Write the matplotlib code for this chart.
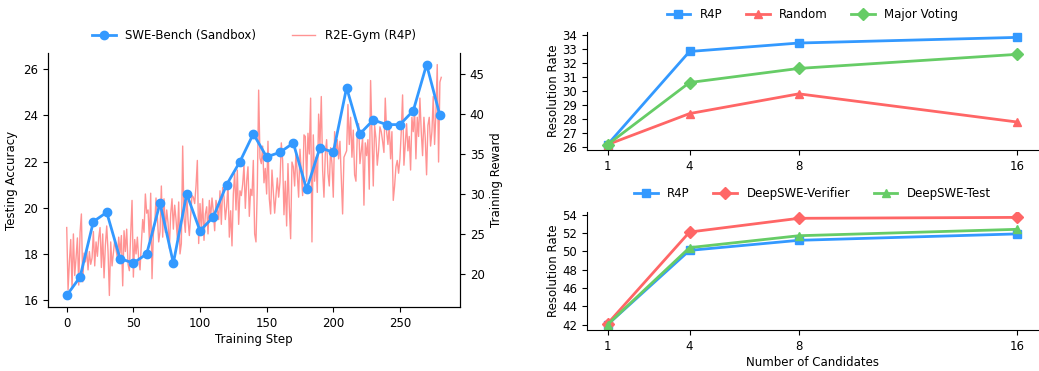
import matplotlib.pyplot as plt

# 左: 学習曲線
test_steps = list(range(0, 290, 10))
test_acc = [16.2, 17.0, 19.4, 19.8, 17.8, 17.6, 18.0, 20.2, 17.6, 20.6,
            19.0, 19.6, 21.0, 22.0, 23.2, 22.2, 22.4, 22.8, 20.8, 22.6,
            22.4, 25.2, 23.2, 23.8, 23.6, 23.6, 24.2, 26.2, 24.0]

train_reward = [
    25.8, 18.0, 21.5, 24.3, 18.2, 25.0, 19.8, 22.0, 24.5, 18.6, 25.2, 27.5, 19.0, 22.6, 21.5, 23.0, 20.5, 22.8, 21.2, 22.0,
    25.3, 21.0, 24.0, 22.2, 24.5, 25.8, 20.8, 25.0, 19.5, 23.6, 26.0, 22.8, 17.3, 24.0, 21.0, 22.6, 24.2, 23.0, 22.0, 24.6,
    22.6, 24.8, 18.5, 25.4, 22.8, 25.6, 21.2, 20.4, 25.0, 29.2, 19.6, 24.3, 22.5, 24.6, 21.8, 20.5, 23.8, 26.8, 25.2, 30.0,
    27.6, 28.0, 24.2, 30.1, 19.4, 25.0, 26.2, 29.5, 27.2, 24.0, 25.3, 31.0, 24.6, 29.4, 25.2, 28.0, 26.4, 23.2, 27.5, 29.4,
    25.6, 28.6, 26.8, 24.4, 29.0, 22.5, 23.8, 36.0, 27.0, 25.2, 30.2, 26.8, 24.8, 27.4, 29.8, 29.6, 28.8, 31.0, 34.2, 23.8,
    28.8, 25.5, 29.4, 24.2, 27.5, 28.4, 25.0, 29.2, 27.0, 29.5, 27.8, 25.4, 29.2, 28.0, 26.8, 30.4, 26.2, 30.8, 29.6, 26.8,
    28.4, 31.2, 24.6, 27.9, 23.5, 30.0, 32.6, 28.0, 33.0, 26.2, 30.4, 29.8, 31.2, 33.6, 28.2, 31.6, 33.4, 27.2, 30.6, 29.8,
    34.2, 25.0, 24.0, 30.8, 43.0, 34.5, 33.8, 36.0, 31.4, 33.2, 30.0, 36.6, 29.4, 27.5, 33.0, 30.4, 27.6, 29.8, 32.0, 29.6,
    31.5, 36.4, 34.2, 27.4, 31.6, 26.0, 33.8, 28.4, 24.4, 34.0, 33.4, 31.0, 35.2, 32.4, 29.6, 35.6, 32.8, 29.8, 37.4, 37.2,
    31.6, 37.6, 35.0, 42.0, 24.0, 37.4, 31.6, 34.6, 30.2, 40.0, 36.2, 42.2, 33.0, 29.6, 35.0, 36.8, 32.6, 31.0, 35.8, 33.8,
    29.6, 37.8, 35.0, 36.8, 34.4, 36.6, 32.0, 27.5, 34.6, 35.0, 35.4, 41.2, 36.2, 39.6, 34.6, 38.0, 32.4, 31.6, 37.4, 38.8,
    33.8, 35.4, 37.0, 28.6, 36.4, 34.8, 36.8, 30.6, 44.2, 37.8, 31.0, 38.6, 37.0, 33.6, 35.4, 38.4, 37.8, 36.6, 35.2, 42.0,
    37.8, 36.2, 38.6, 34.4, 37.8, 29.2, 31.0, 33.4, 34.2, 32.6, 34.4, 37.8, 42.4, 33.6, 36.2, 38.8, 35.4, 37.2, 33.0, 39.6,
    37.8, 40.6, 34.4, 39.6, 37.2, 42.0, 37.8, 34.8, 39.6, 37.0, 32.4, 38.6, 39.6, 36.0, 37.8, 42.2, 36.2, 40.0, 46.2, 34.0,
    44.0, 44.6,
]
train_steps = list(range(len(train_reward)))

# 右: 候補数ごとの解決率
candidates = [1, 4, 8, 16]
top_r4p = [26.2, 32.8, 33.4, 33.8]
top_random = [26.2, 28.4, 29.8, 27.8]
top_vote = [26.2, 30.6, 31.6, 32.6]
bot_r4p = [42.0, 50.1, 51.2, 51.9]
bot_verifier = [42.1, 52.1, 53.6, 53.7]
bot_test = [42.0, 50.4, 51.7, 52.4]

blue = '#3399ff'
red = '#ff6666'
green = '#66cc66'

plt.rcParams['font.size'] = 8.5

fig = plt.figure(figsize=(10.39, 3.71), dpi=100)

ax = fig.add_axes([0.0462, 0.1725, 0.3965, 0.6846])
ax2 = ax.twinx()
l2, = ax2.plot(train_steps, train_reward, color=red, alpha=0.7, linewidth=1, label='R2E-Gym (R4P)')
l1, = ax.plot(test_steps, test_acc, color=blue, marker='o', markersize=6, linewidth=2, label='SWE-Bench (Sandbox)')
ax.set_zorder(ax2.get_zorder() + 1)
ax.patch.set_visible(False)
ax.set_xlabel('Training Step', labelpad=2)
ax.set_ylabel('Testing Accuracy')
ax2.set_ylabel('Training Reward')
ax.spines['top'].set_visible(False)
ax2.spines['top'].set_visible(False)
ax.legend([l1, l2], [l1.get_label(), l2.get_label()], loc='lower center',
          bbox_to_anchor=(0.5, 1.0), ncol=2, frameon=False, columnspacing=3)

# 右上
axt = fig.add_axes([0.565, 0.5957, 0.434, 0.318])
axt.plot(candidates, top_r4p, color=blue, marker='s', markersize=6, linewidth=2, label='R4P')
axt.plot(candidates, top_random, color=red, marker='^', markersize=6, linewidth=2, label='Random')
axt.plot(candidates, top_vote, color=green, marker='D', markersize=6, linewidth=2, label='Major Voting')
axt.set_xticks(candidates)
axt.set_yticks(range(26, 35))
axt.set_ylabel('Resolution Rate', labelpad=2)
axt.spines['top'].set_visible(False)
axt.spines['right'].set_visible(False)
axt.legend(loc='lower center', bbox_to_anchor=(0.5, 1.0), ncol=3, frameon=False)

# 右下
axb = fig.add_axes([0.565, 0.1105, 0.434, 0.318])
axb.plot(candidates, bot_r4p, color=blue, marker='s', markersize=6, linewidth=2, label='R4P')
axb.plot(candidates, bot_verifier, color=red, marker='D', markersize=6, linewidth=2, label='DeepSWE-Verifier')
axb.plot(candidates, bot_test, color=green, marker='^', markersize=6, linewidth=2, label='DeepSWE-Test')
axb.set_xticks(candidates)
axb.set_yticks(range(42, 55, 2))
axb.set_xlabel('Number of Candidates', labelpad=2)
axb.set_ylabel('Resolution Rate', labelpad=2)
axb.spines['top'].set_visible(False)
axb.spines['right'].set_visible(False)
axb.legend(loc='lower center', bbox_to_anchor=(0.5, 1.01), ncol=3, frameon=False)

fig.savefig('out.png', dpi=100)
